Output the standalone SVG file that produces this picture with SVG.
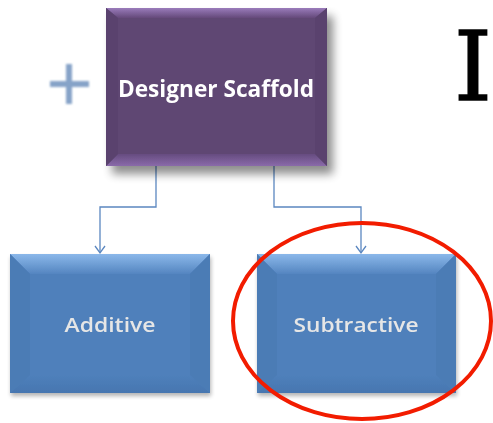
<svg xmlns="http://www.w3.org/2000/svg" width="493" height="423" viewBox="0 0 493 423">
<style>
.lbl{font-family:"Open Sans","Liberation Sans",sans-serif;text-anchor:middle;}
.conn{fill:none;stroke:#5b87c0;stroke-width:1.3;}
</style>
<defs>
<filter id="sh" x="-20%" y="-20%" width="150%" height="150%"><feGaussianBlur in="SourceAlpha" stdDeviation="5"/><feOffset dx="6" dy="8"/><feComponentTransfer><feFuncA type="linear" slope="0.45"/></feComponentTransfer><feMerge><feMergeNode/><feMergeNode in="SourceGraphic"/></feMerge></filter>
<filter id="sh2" x="-10%" y="-10%" width="130%" height="130%"><feGaussianBlur in="SourceAlpha" stdDeviation="2"/><feOffset dx="1" dy="3"/><feComponentTransfer><feFuncA type="linear" slope="0.3"/></feComponentTransfer><feMerge><feMergeNode/><feMergeNode in="SourceGraphic"/></feMerge></filter>
<filter id="bl"><feGaussianBlur stdDeviation="1.2"/></filter>
<linearGradient id="ptop" x1="0" y1="0" x2="0" y2="1"><stop offset="0" stop-color="#9a7bbb"/><stop offset="1" stop-color="#64497a"/></linearGradient>
<linearGradient id="pbot" x1="0" y1="0" x2="0" y2="1"><stop offset="0" stop-color="#664c80"/><stop offset="1" stop-color="#8a6aaa"/></linearGradient>
<linearGradient id="btop" x1="0" y1="0" x2="0" y2="1"><stop offset="0" stop-color="#8bb8ea"/><stop offset="1" stop-color="#5485c0"/></linearGradient>
<linearGradient id="bbot" x1="0" y1="0" x2="0" y2="1"><stop offset="0" stop-color="#4f80bb"/><stop offset="1" stop-color="#4676b0"/></linearGradient>
</defs>
<rect width="493" height="423" fill="#fff"/>
<g id="plus" filter="url(#bl)"><path d="M50,84 H89 M69,64 V104" stroke="#86a3c8" stroke-width="6"/></g>
<g id="connectors">
<path class="conn" d="M156,160 V207 H100 V253"/>
<path class="conn" d="M95,246 L100,253 L105,246"/>
<path class="conn" d="M274,160 V207 H361 V253"/>
<path class="conn" d="M356,246 L361,253 L366,246"/>
</g>
<g id="designer" filter="url(#sh)">
<rect x="106" y="8" width="221" height="158" fill="#5e4673"/>
<polygon points="106,8 327,8 315,18 118,18" fill="url(#ptop)"/>
<polygon points="106,166 327,166 315,154 118,154" fill="url(#pbot)"/>
<polygon points="106,8 118,18 118,154 106,166" fill="#5a436e"/>
<polygon points="327,8 315,18 315,154 327,166" fill="#5a436e"/>
<text class="lbl" x="216" y="97" font-size="24" font-weight="bold" fill="#fff" textLength="196" lengthAdjust="spacingAndGlyphs">Designer Scaffold</text>
</g>
<g id="additive" filter="url(#sh2)">
<rect x="10" y="254" width="200" height="139" fill="#4f80bb"/>
<polygon points="10,254 210,254 190,274 30,274" fill="url(#btop)"/>
<polygon points="10,393 210,393 190,375 30,375" fill="url(#bbot)"/>
<polygon points="10,254 30,274 30,375 10,393" fill="#4b7bb5"/>
<polygon points="210,254 190,274 190,375 210,393" fill="#4b7bb5"/>
<text class="lbl" x="110" y="332" font-size="20" font-weight="600" fill="#e6e6e6" textLength="91" lengthAdjust="spacingAndGlyphs">Additive</text>
</g>
<g id="subtractive" filter="url(#sh2)">
<rect x="257" y="254" width="199" height="139" fill="#4f80bb"/>
<polygon points="257,254 456,254 436,274 277,274" fill="url(#btop)"/>
<polygon points="257,393 456,393 436,375 277,375" fill="url(#bbot)"/>
<polygon points="257,254 277,274 277,375 257,393" fill="#4b7bb5"/>
<polygon points="456,254 436,274 436,375 456,393" fill="#4b7bb5"/>
<text class="lbl" x="356" y="332" font-size="20" font-weight="600" fill="#e6e6e6" textLength="125" lengthAdjust="spacingAndGlyphs">Subtractive</text>
</g>
<g id="highlight"><ellipse cx="362" cy="321" rx="129" ry="98" fill="none" stroke="#f21c00" stroke-width="4"/></g>
<g id="cursor"><text x="473" y="100" font-family="'DejaVu Serif', serif" font-size="96" text-anchor="middle" fill="#000" stroke="#000" stroke-width="1.5">I</text></g>
</svg>
